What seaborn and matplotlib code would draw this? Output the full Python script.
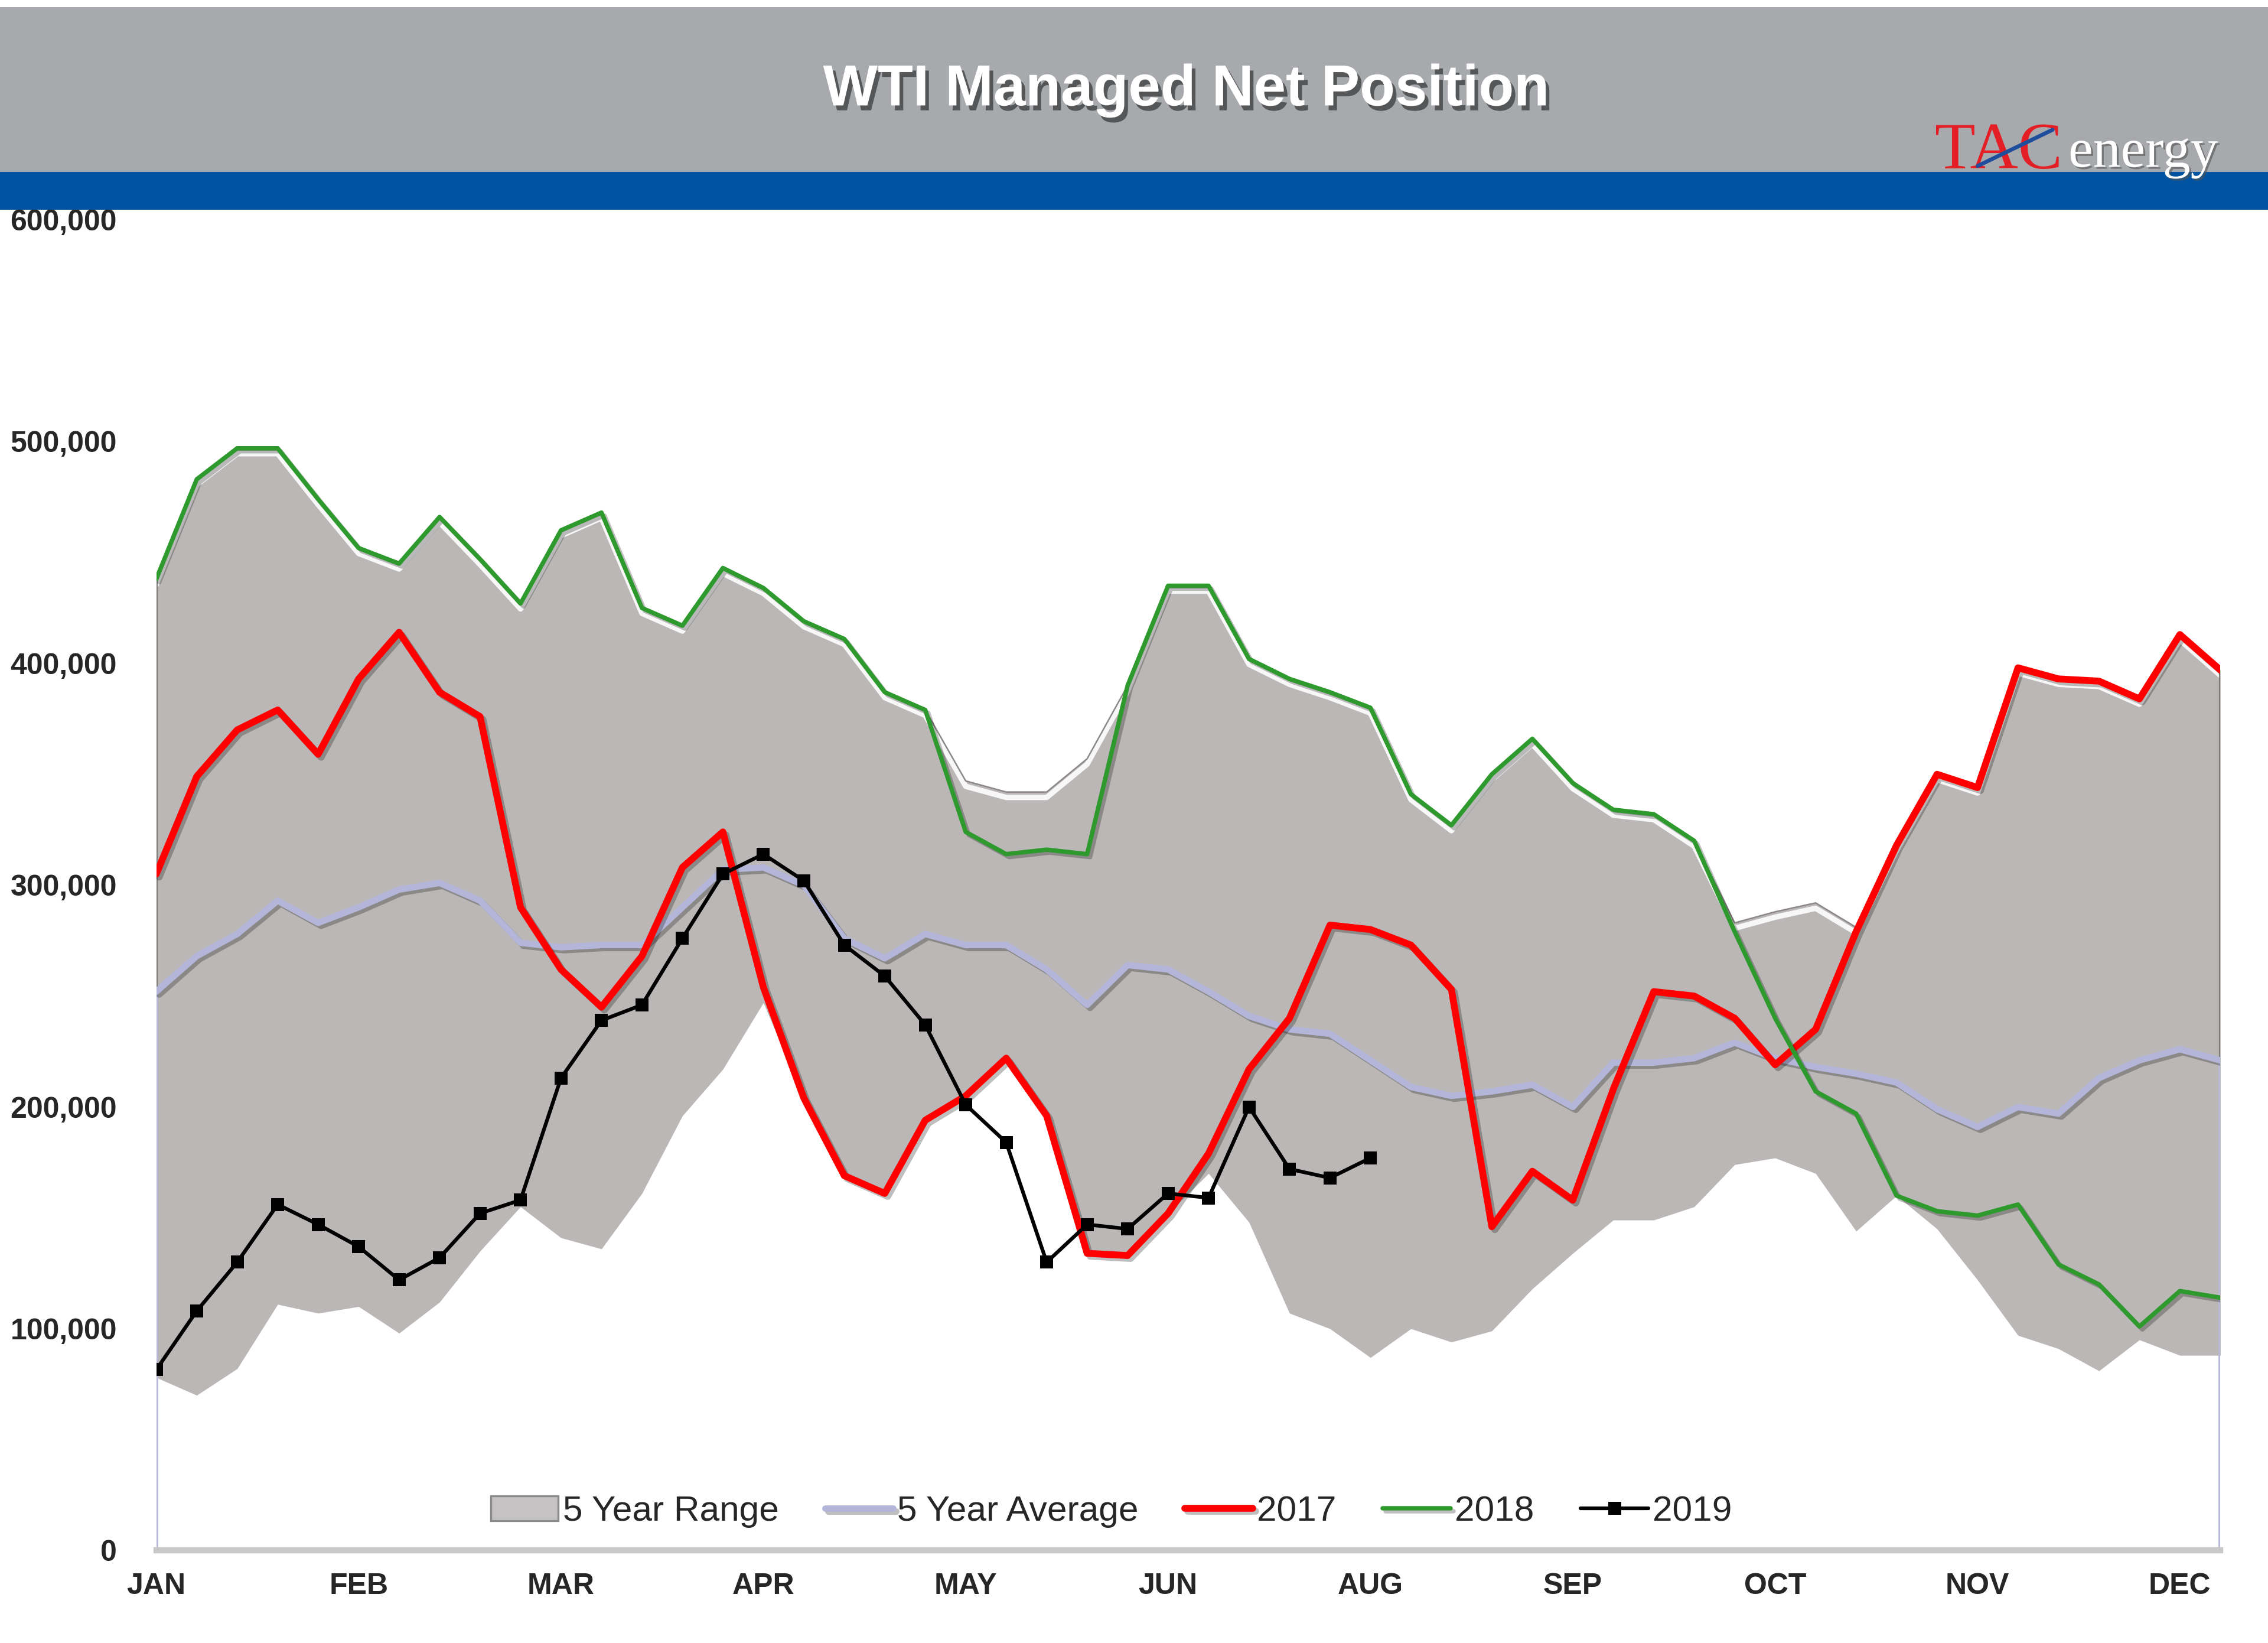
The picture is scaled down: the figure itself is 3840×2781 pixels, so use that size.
import numpy as np
import pandas as pd
import matplotlib
matplotlib.use("Agg")
import matplotlib.pyplot as plt
import matplotlib.patheffects as pe
from matplotlib.patches import Patch, Rectangle
from matplotlib.lines import Line2D
from matplotlib import font_manager
import seaborn as sns

# weekly data, thousands of contracts
MONTHS = ["JAN", "FEB", "MAR", "APR", "MAY", "JUN", "AUG", "SEP", "OCT", "NOV", "DEC"]

range_low = [78, 70, 82, 111, 107, 110, 98, 112, 135, 155, 141, 136, 161, 196, 217, 247,
             204, 169, 161, 193, 204, 221, 196, 134, 133, 152, 170, 148, 107, 100, 87, 100,
             94, 99, 118, 134, 149, 149, 155, 174, 177, 170, 144, 160, 145, 122, 97, 91,
             81, 95, 88, 88]
range_high = [438, 483, 497, 497, 474, 452, 445, 466, 447, 427, 460, 468, 425, 417, 443, 434,
              419, 411, 387, 379, 347, 342, 342, 357, 390, 435, 435, 402, 393, 387, 380, 341,
              327, 350, 366, 346, 334, 332, 320, 283, 288, 292, 281, 318, 350, 344, 398, 393,
              392, 384, 413, 397]
avg_5yr = [252, 268, 278, 293, 283, 290, 298, 301, 293, 274, 272, 273, 273, 290, 307, 308,
           300, 276, 267, 278, 273, 273, 262, 246, 264, 262, 252, 241, 235, 233, 221, 209,
           205, 207, 210, 200, 220, 220, 222, 229, 222, 218, 215, 211, 199, 191, 200, 197,
           213, 221, 226, 221]
y2017 = [305, 349, 370, 379, 359, 393, 414, 387, 376, 290, 262, 245, 268, 308, 324, 254,
         204, 169, 161, 194, 205, 222, 196, 134, 133, 152, 179, 217, 240, 282, 280, 273,
         253, 146, 171, 158, 208, 252, 250, 240, 219, 235, 279, 318, 350, 344, 398, 393,
         392, 384, 413, 397]
y2018 = [438, 483, 497, 497, 474, 452, 445, 466, 447, 427, 460, 468, 425, 417, 443, 434,
         419, 411, 387, 379, 324, 314, 316, 314, 390, 435, 435, 402, 393, 387, 380, 341,
         327, 350, 366, 346, 334, 332, 320, 279, 240, 207, 197, 160, 153, 151, 156, 129,
         120, 101, 117, 114]
y2019 = [81.5, 108, 130, 156, 147, 137, 122, 132, 152, 158, 213, 239, 246, 276, 305, 314,
         302, 273, 259, 237, 201, 184, 130, 147, 145, 161, 159, 200, 172, 168, 177]

week = np.arange(len(range_low))
df = pd.DataFrame({
    "week": week,
    "low": np.array(range_low) * 1000,
    "high": np.array(range_high) * 1000,
    "avg": np.array(avg_5yr) * 1000,
    "y2017": np.array(y2017) * 1000,
    "y2018": np.array(y2018) * 1000,
})
df19 = pd.DataFrame({"week": week[:len(y2019)], "y2019": np.array(y2019) * 1000})

sns.set_style("white")
names = {f.name for f in font_manager.fontManager.ttflist}
NARROW = "Liberation Sans Narrow" if "Liberation Sans Narrow" in names else None
plt.rcParams["font.family"] = ["Liberation Sans", "DejaVu Sans"]

fig = plt.figure(figsize=(12.8, 9.27), dpi=300)
ax = fig.add_axes([0.0689, 0.0563, 0.9101, 0.8099])

# header banner
fig.add_artist(Rectangle((0, 0.8952), 1, 0.1004, transform=fig.transFigure,
                         facecolor="#a7a9ac", edgecolor="none", zorder=0))
fig.add_artist(Rectangle((0, 0.8724), 1, 0.0228, transform=fig.transFigure,
                         facecolor="#0053a1", edgecolor="none", zorder=1))
fig.text(0.523, 0.945, "WTI Managed Net Position", ha="center", va="center",
         fontsize=23.5, fontweight="bold", color="white",
         path_effects=[pe.withSimplePatchShadow(offset=(1.5, -2), shadow_rgbFace="#333333",
                                                alpha=0.7)])
fig.text(0.853, 0.8975, "TAC", ha="left", va="baseline", fontsize=27,
         family="Liberation Serif", color="#e31e24", zorder=3)
fig.text(0.912, 0.8985, "energy", ha="left", va="baseline", fontsize=22.5,
         family="Liberation Serif", color="white", zorder=3,
         path_effects=[pe.withSimplePatchShadow(offset=(0.8, -0.8), shadow_rgbFace="#555555",
                                                alpha=0.6)])
fig.add_artist(Line2D([0.872, 0.905], [0.899, 0.921], transform=fig.transFigure,
                      color="#1f4e9c", lw=1.6, zorder=4))

# 5 year range band
ax.fill_between(df["week"], df["low"], df["high"], color="#bab7b6", lw=0, zorder=1)
ax.plot(df["week"], df["high"], color="#8d8888", lw=0.6, zorder=1.5,
        path_effects=[pe.SimpleLineShadow(offset=(0, -2.2), shadow_color="white", alpha=0.9,
                                          linewidth=2.2), pe.Normal()])
# side edges of the band / plot
ax.vlines(df["week"].iloc[[0, -1]], 0, df["high"].iloc[[0, -1]], color="#7d7a7a", lw=1.0,
          zorder=1.6)
ax.vlines(df["week"].iloc[[0, -1]], 0, df["avg"].iloc[[0, -1]], color="#b8b9d8", lw=1.4,
          zorder=1.7)

shadow = [pe.SimpleLineShadow(offset=(1.2, -1.2), alpha=0.25), pe.Normal()]
sns.lineplot(data=df, x="week", y="avg", ax=ax, color="#b3b5d9", lw=2.6,
             label="5 Year Average", zorder=3, path_effects=shadow)
sns.lineplot(data=df, x="week", y="y2017", ax=ax, color="#ff0000", lw=2.8,
             label="2017", zorder=4, path_effects=shadow)
sns.lineplot(data=df, x="week", y="y2018", ax=ax, color="#2e9a2e", lw=1.8,
             label="2018", zorder=4, path_effects=shadow)
sns.lineplot(data=df19, x="week", y="y2019", ax=ax, color="black", lw=1.5,
             marker="s", markersize=5.5, markeredgewidth=0, label="2019", zorder=5)

ax.set_xlim(0, 51)
ax.set_ylim(0, 600000)
ax.set_xticks(week[::5])
ax.set_xticklabels(MONTHS)
yt = np.arange(0, 600001, 100000)
ax.set_yticks(yt)
ax.set_yticklabels([f"{v:,.0f}" for v in yt])
ax.tick_params(axis="both", length=0, labelsize=12)
ax.tick_params(axis="y", pad=16)
ax.tick_params(axis="x", pad=9)
for lab in ax.get_xticklabels() + ax.get_yticklabels():
    lab.set_fontweight("bold")
ax.set_xlabel("")
ax.set_ylabel("")

for side in ["top", "left", "right"]:
    ax.spines[side].set_visible(False)
ax.spines["bottom"].set_color("#c8c8c8")
ax.spines["bottom"].set_linewidth(2.5)

handles, labels = ax.get_legend_handles_labels()
ax.get_legend().remove()
order = ["5 Year Average", "2017", "2018", "2019"]
h = {l: hd for hd, l in zip(handles, labels)}
leg_handles = [Patch(facecolor="#c4c2c2", edgecolor="#8a8a8a", lw=0.8)] + [h[o] for o in order]
leg_labels = ["5 Year Range"] + order
leg_font = {"family": [NARROW, "Liberation Sans"] if NARROW else ["Liberation Sans"],
            "size": 16 if NARROW else 14.5}
fig.legend(leg_handles, leg_labels, loc="center", bbox_to_anchor=(0.49, 0.080), ncol=5,
           frameon=False, prop=leg_font, handlelength=1.9, handletextpad=0.12,
           columnspacing=1.3)

fig.savefig("out.png", dpi=300, facecolor="white")
